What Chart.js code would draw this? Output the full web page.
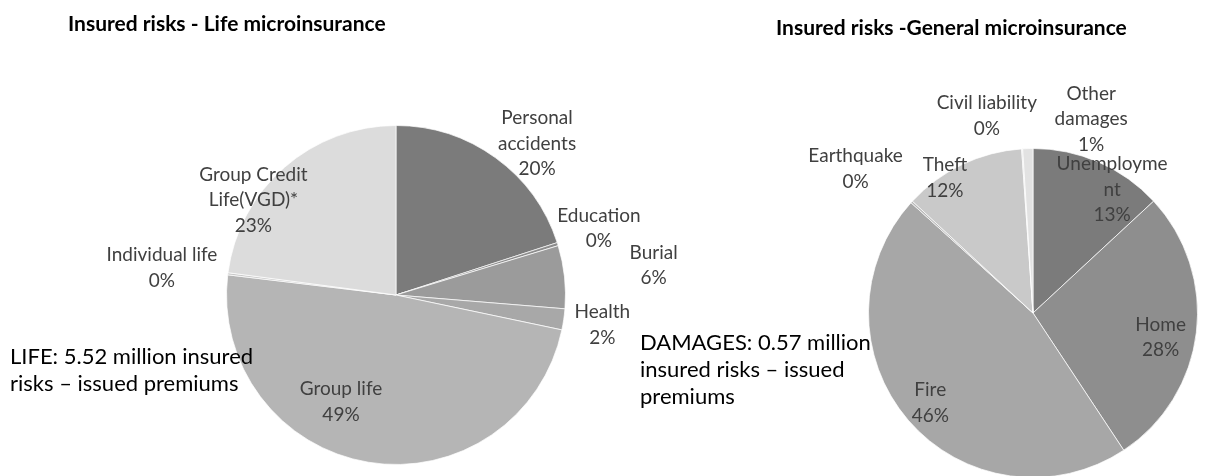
<!DOCTYPE html>
<html>
<head>
<meta charset="utf-8">
<script src="https://cdn.jsdelivr.net/npm/chart.js@4/dist/chart.umd.min.js"></script>
<style>
    html, body { margin: 0; padding: 0; background: #fff; }
    #page { position: relative; width: 1222px; height: 476px; overflow: hidden; font-family: Lato, "Open Sans", sans-serif; }
    canvas { position: absolute; left: 0; top: 0; }
    .title { position: absolute; font-weight: bold; font-size: 21px; line-height: 25px; color: #000; white-space: nowrap; }
    .note { position: absolute; font-size: 22px; line-height: 27px; color: #000; white-space: nowrap; }
</style>
</head>
<body>
<div id="page">
    <canvas id="lifeChart" width="1222" height="490"></canvas>
    <canvas id="damageChart" width="1222" height="490"></canvas>
    <div class="title" style="left:68px; top:10px;">Insured risks - Life microinsurance</div>
    <div class="title" style="left:776px; top:14px;">Insured risks -General microinsurance</div>
    <div class="note" style="left:10px; top:342px;">LIFE: 5.52 million insured<br>risks – issued premiums</div>
    <div class="note" style="left:640px; top:328px;">DAMAGES: 0.57 million<br>insured risks – issued<br>premiums</div>
</div>
<script>
// life microinsurance, clockwise from 12 o'clock
const lifeCategories = ["Personal\naccidents", "Education", "Burial", "Health", "Group life", "Individual life", "Group Credit\nLife(VGD)*"]
const lifeValues = [20, 0.3, 6, 2, 48.6, 0.2, 22.9]
const lifeColors = ["#7b7b7b", "#8c8c8c", "#9b9b9b", "#a8a8a8", "#b5b5b5", "#c8c8c8", "#dcdcdc"]

// general microinsurance
const damageCategories = ["Unemployme\nnt", "Home", "Fire", "Earthquake", "Theft", "Civil liability", "Other\ndamages"]
const damageValues = [13.1, 27.6, 46, 0.2, 12, 0.1, 1]
const damageColors = ["#7b7b7b", "#8e8e8e", "#a7a7a7", "#b8b8b8", "#c9c9c9", "#d6d6d6", "#e2e2e2"]

// label placement: angle in degrees clockwise from top, distance in pie radii
const lifeLabelAngle = [43, 71.8, 83.4, 98.2, 207.2, 276.6, 303.6]
const lifeLabelDist = [1.22, 1.26, 1.53, 1.23, 0.71, 1.39, 1.01]
const damageLabelAngle = [32.7, 100.7, 228.8, 309.1, 326.9, 346.8, 16.7]
const damageLabelDist = [0.89, 0.79, 0.83, 1.39, 0.98, 1.23, 1.23]

const pieLabels = {
    id: "pieLabels",
    afterDatasetsDraw(chart, args, opts) {
        const meta = chart.getDatasetMeta(0)
        const arc = meta.data[0]
        const cx = arc.x
        const cy = arc.y
        const r = arc.outerRadius
        const values = chart.data.datasets[0].data
        const total = values.reduce((a, b) => a + b, 0)
        const c = chart.ctx
        c.save()
        c.font = "19px Lato, 'Open Sans', sans-serif"
        c.fillStyle = "#404040"
        c.textAlign = "center"
        c.textBaseline = "middle"
        chart.data.labels.forEach((name, i) => {
            const lines = name.split("\n")
            lines.push(Math.round(values[i] / total * 100) + "%")
            const a = opts.angles[i] * Math.PI / 180
            const x = cx + opts.dists[i] * r * Math.sin(a)
            const y = cy - opts.dists[i] * r * Math.cos(a)
            const lh = 25.5
            const top = y - (lines.length - 1) * lh / 2
            lines.forEach((t, j) => c.fillText(t, x, top + j * lh))
        })
        c.restore()
    }
}

function makePie(id, labels, values, colors, padding, angles, dists) {
    return new Chart(document.getElementById(id), {
        type: "pie",
        data: {
            labels: labels,
            datasets: [{
                data: values,
                backgroundColor: colors,
                borderColor: "rgba(255,255,255,0.7)",
                borderWidth: 1
            }]
        },
        options: {
            responsive: false,
            animation: false,
            layout: { padding: padding },
            plugins: {
                legend: { display: false },
                tooltip: { enabled: false },
                pieLabels: { angles: angles, dists: dists }
            }
        },
        plugins: [pieLabels]
    })
}

makePie("lifeChart", lifeCategories, lifeValues, lifeColors,
    { left: 226, top: 125, right: 656, bottom: 25 }, lifeLabelAngle, lifeLabelDist)
makePie("damageChart", damageCategories, damageValues, damageColors,
    { left: 868, top: 148, right: 24, bottom: 12 }, damageLabelAngle, damageLabelDist)
</script>
</body>
</html>
